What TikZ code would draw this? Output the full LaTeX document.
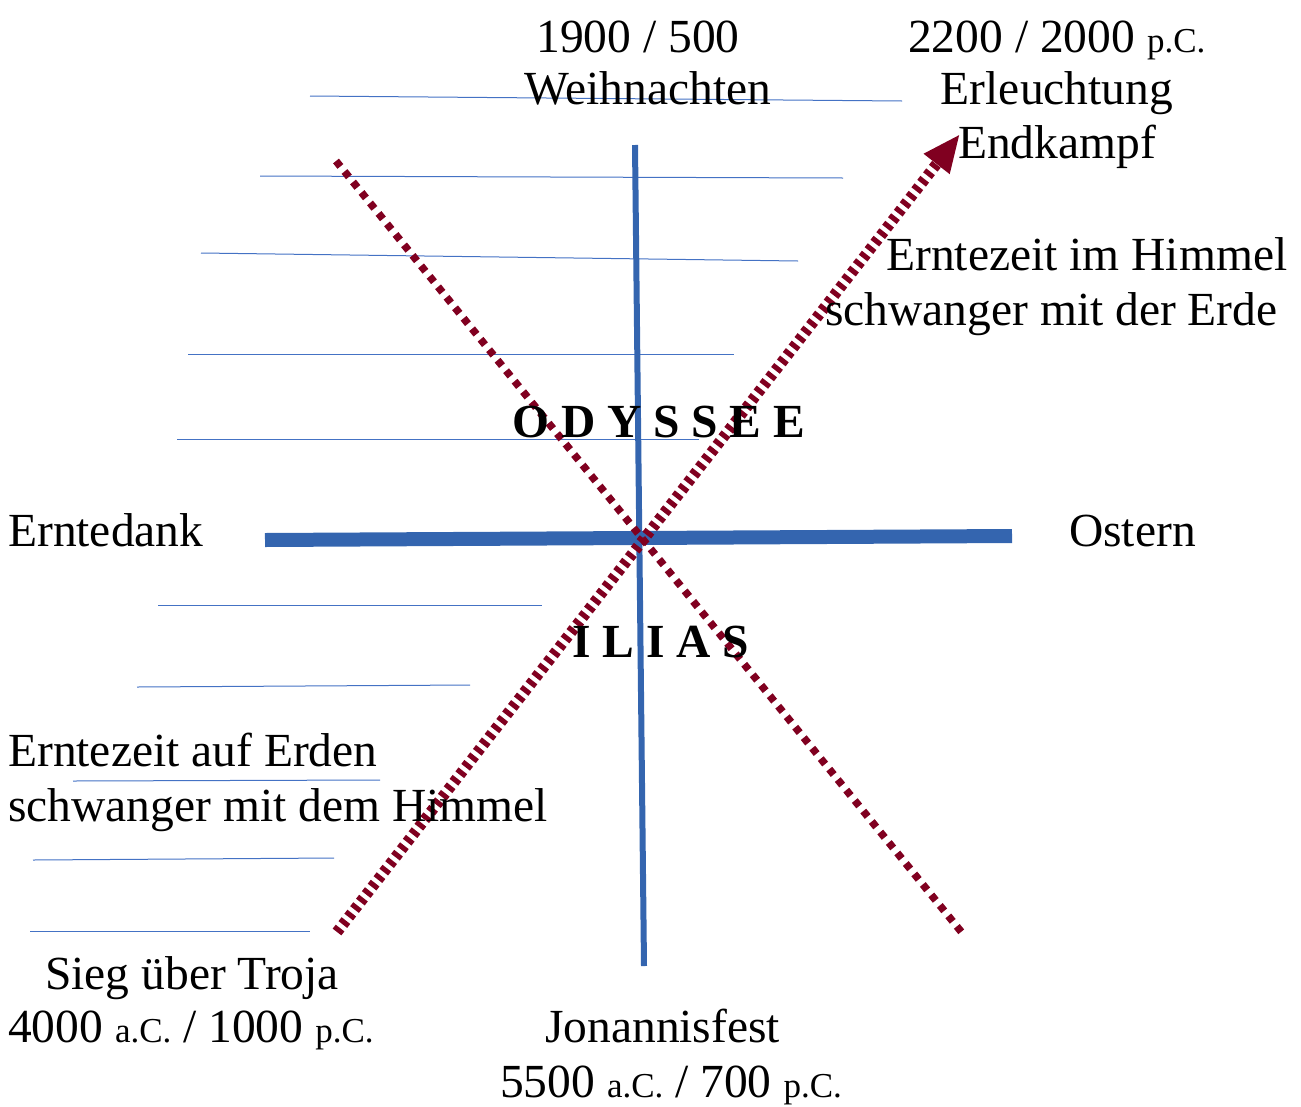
\documentclass[tikz,border=0pt]{standalone}
\usepackage{fontspec}
\setmainfont{Liberation Serif}
\usetikzlibrary{arrows.meta}
\definecolor{thickblue}{RGB}{52,101,175}
\definecolor{thinblue}{RGB}{68,114,196}
\definecolor{burgundy}{RGB}{128,0,32}
\newcommand{\sm}[1]{{\fontsize{35}{38}\selectfont #1}}
\tikzset{
  lbl/.style={inner sep=0pt, anchor=base west, font=\fontsize{47.5}{54}\selectfont},
  lblc/.style={inner sep=0pt, anchor=base, font=\fontsize{47.5}{54}\selectfont},
  guide/.style={draw=thinblue, line width=1pt},
  axis/.style={draw=thickblue},
  redarrow/.style={draw=burgundy, line width=11pt, dash pattern=on 5pt off 4.5pt,
     -{Triangle[length=38pt,width=30pt,fill=burgundy]}},
  reddots/.style={draw=burgundy, line width=7.5pt, dash pattern=on 7pt off 6.5pt},
}
\begin{document}
\begin{tikzpicture}[x=1pt,y=-1pt]
\useasboundingbox (0,0) rectangle (1301,1106);
% guide lines
\draw[guide] (310,96) -- (902,101);
\draw[guide] (260,176) -- (843,178);
\draw[guide] (201,253) -- (798,261);
\draw[guide] (188,354) -- (734,354);
\draw[guide] (177,439) -- (699,439);
\draw[guide] (158,605) -- (542,605);
\draw[guide] (137,687) -- (470,685);
\draw[guide] (73,781) -- (380,780);
\draw[guide] (33,860) -- (334,858);
\draw[guide] (30,931) -- (310,931);
% axes
\coordinate (vtop) at (635,145);
\coordinate (vbot) at (644,966);
\coordinate (hleft) at (265,540);
\coordinate (hright) at (1012,536);
\draw[axis, line width=6pt] (vtop) -- (vbot);
\draw[axis, line width=14pt] (hleft) -- (hright);
% red lines
\coordinate (aStart) at (337,932);
\coordinate (aEnd) at (960,134);
\coordinate (dStart) at (336,161);
\coordinate (dEnd) at (963,934);
\draw[reddots] (dStart) -- (dEnd);
\draw[redarrow] (aStart) -- (aEnd);
% texts
\node[lblc] (t1900) at (638,52) {1900 / 500};
\node[lblc] (tweih) at (648,104) {Weihnachten};
\node[lbl] (t2200) at (908,52) {2200 / 2000 \sm{p.C.}};
\node[lblc] (terl) at (1057,104) {Erleuchtung};
\node[lblc] (tend) at (1057,158) {Endkampf};
\node[lbl] (thim1) at (886,270) {Erntezeit im Himmel};
\node[lbl] (thim2) at (825,325) {schwanger mit der Erde};
\node[lbl, font=\fontsize{47.5}{54}\selectfont\bfseries] (tody) at (512,437) {O D Y S S E E};
\node[lbl] (tdank) at (8,546) {Erntedank};
\node[lbl] (tost) at (1069,546) {Ostern};
\node[lbl, font=\fontsize{47.5}{54}\selectfont\bfseries] (tilias) at (572,657) {I L I A S};
\node[lbl] (terd1) at (8,766) {Erntezeit auf Erden};
\node[lbl] (terd2) at (8,821) {schwanger mit dem Himmel};
\node[lbl] (tsieg) at (45,989) {Sieg über Troja};
\node[lbl] (t4000) at (8,1042) {4000 \sm{a.C.} / 1000 \sm{p.C.}};
\node[lbl] (tjoh) at (545,1042) {Jonannisfest};
\node[lbl] (t5500) at (500,1097) {5500 \sm{a.C.} / 700 \sm{p.C.}};
\end{tikzpicture}
\end{document}
